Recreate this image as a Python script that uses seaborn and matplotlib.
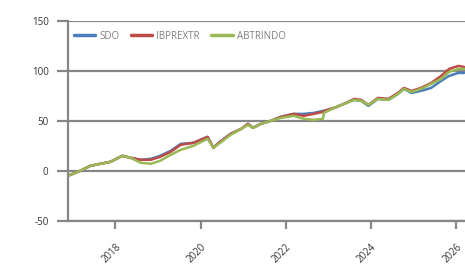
import pandas as pd
import matplotlib
matplotlib.use("Agg")
import matplotlib.pyplot as plt
import matplotlib.dates as mdates
import seaborn as sns

# dados (variação acumulada, %)
datas = ["2016-11-20", "2017-03-05", "2017-06-01", "2017-08-25", "2017-11-20",
         "2018-03-01", "2018-05-10", "2018-08-05", "2018-11-01", "2019-01-20",
         "2019-04-20", "2019-07-15", "2019-11-01", "2020-03-01", "2020-04-20",
         "2020-06-05", "2020-09-15", "2020-12-15", "2021-02-10", "2021-03-25",
         "2021-06-01", "2021-08-25", "2021-11-20", "2022-03-10", "2022-06-05",
         "2022-08-30", "2022-11-15", "2022-11-25", "2023-02-20", "2023-05-15",
         "2023-08-10", "2023-10-10", "2023-12-10", "2024-03-01", "2024-05-30",
         "2024-08-20", "2024-10-10", "2024-12-15", "2025-03-05", "2025-06-01",
         "2025-08-25", "2025-11-01", "2026-01-20", "2026-03-10"]

sdo = [-5, 0, 5, 7, 9, 15, 13, 11, 12, 15, 20, 27, 28, 34, 23, 28, 37, 42, 47, 43,
       47, 50, 54, 57, 57, 58, 60, 60, 63, 67, 71, 70, 65, 72, 71, 77, 82, 78, 80, 83,
       90, 95, 98, 98]
ibprextr = [-5, 0, 5, 7, 9, 15, 13, 11, 11, 14, 19, 26, 28, 34, 23, 28, 37, 42, 47, 43,
            47, 50, 54, 57, 55, 57, 59, 60, 63, 67, 72, 71, 66, 73, 72, 78, 83, 80, 83, 88,
            95, 102, 105, 104]
abtrindo = [-5, 0, 5, 7, 9, 15, 13, 8, 7, 10, 16, 21, 25, 32, 23, 27, 36, 42, 46, 43,
            47, 50, 53, 55, 52, 51, 52, 58, 63, 67, 71, 70, 66, 72, 71, 77, 82, 79, 82, 87,
            92, 99, 102, 102]

series = ["SDO", "IBPREXTR", "ABTRINDO"]
cores = ["#4a7ebb", "#be4b48", "#98b954"]

df = pd.DataFrame({"data": pd.to_datetime(datas).tolist() * 3,
                   "valor": sdo + ibprextr + abtrindo,
                   "serie": [s for s in series for _ in datas]})

sns.set_style("white")
plt.rcParams["font.family"] = ["Open Sans", "DejaVu Sans"]
plt.rcParams["axes.unicode_minus"] = False

cinza = "#868686"
fig = plt.figure(figsize=(4.65, 2.69), dpi=100)
ax = fig.add_axes([68 / 465, 48.3 / 269, 1 - 68 / 465, 199.7 / 269])

sns.lineplot(data=df, x="data", y="valor", hue="serie", hue_order=series,
             palette=cores, linewidth=1.8, ax=ax)

ax.set_ylim(-50, 150)
ax.set_yticks([-50, 0, 50, 100, 150])
ax.set_xlim(pd.Timestamp("2016-11-20"), pd.Timestamp("2026-03-18"))
ax.xaxis.set_major_locator(mdates.YearLocator(2))
ax.xaxis.set_major_formatter(mdates.DateFormatter("%Y"))
ax.set_xlabel("")
ax.set_ylabel("")

ax.grid(axis="y", color=cinza, linewidth=1.6)
ax.set_axisbelow(True)
for lado in ["top", "right"]:
    ax.spines[lado].set_visible(False)
ax.spines["left"].set_color(cinza)
ax.spines["left"].set_linewidth(1.6)
ax.spines["bottom"].set_color(cinza)
ax.spines["bottom"].set_linewidth(1.6)

ax.tick_params(axis="y", length=8, width=1.6, color=cinza, pad=6, labelsize=7,
               labelcolor="#333333", left=True)
ax.tick_params(axis="x", length=6, width=1.6, color=cinza, pad=9, labelsize=7,
               labelcolor="#333333", bottom=True)
for lbl in ax.get_xticklabels():
    lbl.set_rotation(45)
    lbl.set_ha("right")
    lbl.set_rotation_mode("anchor")

leg = ax.legend(loc="upper left", ncol=3, frameon=False, fontsize=7,
                handlelength=2.2, handletextpad=0.4, columnspacing=1.2,
                bbox_to_anchor=(0.0, 0.98), borderaxespad=0.2)
for t in leg.get_texts():
    t.set_color("#7f7f7f")
for h in leg.get_lines():
    h.set_linewidth(2.5)

fig.savefig("out.png", dpi=100)
